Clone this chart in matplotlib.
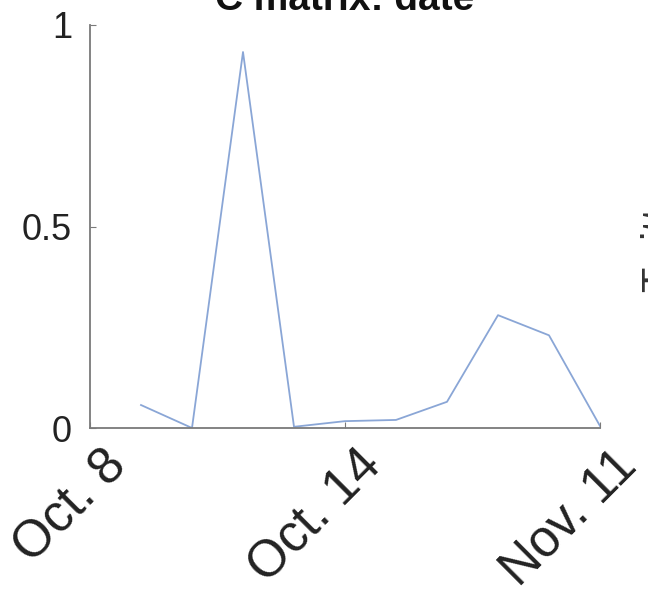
import matplotlib
matplotlib.use("Agg")
import matplotlib.pyplot as plt
from matplotlib.transforms import ScaledTranslation

plt.rcParams['font.family'] = ['Liberation Sans', 'DejaVu Sans']

# values of the C matrix per date index
idx = [1, 2, 3, 4, 5, 6, 7, 8, 9, 10]
vals = [0.057, 0.0, 0.933, 0.003, 0.017, 0.02, 0.065, 0.28, 0.23, 0.005]
tick_pos = [0, 5, 10]
tick_lab = ['Oct. 8', 'Oct. 14', 'Nov. 11']
ytick_pos = [0, 0.5, 1]
ytick_lab = ['0', '0.5', '1']

W, H = 648, 593
fig = plt.figure(figsize=(W/100, H/100), dpi=100)
ax = fig.add_axes([90/W, 1 - 428/H, 510/W, 403/H])

ax.plot(idx, vals, color='#8aa6d6', lw=1.3)

ax.set_xlim(0, 10)
ax.set_ylim(0, 1)
for s in ['top', 'right']:
    ax.spines[s].set_visible(False)
for s in ['left', 'bottom']:
    ax.spines[s].set_color('#7a7a7a')
    ax.spines[s].set_linewidth(1.3)

ax.set_yticks(ytick_pos)
ax.set_yticklabels(ytick_lab)
ax.set_xticks(tick_pos)
ax.set_xticklabels(tick_lab, rotation=45, ha='right', va='center',
                   rotation_mode='anchor')
ax.tick_params(direction='in', length=4, color='#7a7a7a',
               labelcolor='#222222')
ax.tick_params(axis='y', pad=13, labelsize=26)
ax.tick_params(axis='x', pad=20, labelsize=37)

# the rotated labels sit a little to the right of their tick
off = ScaledTranslation(29/100, -2/100, fig.dpi_scale_trans)
for lab in ax.get_xticklabels():
    lab.set_transform(lab.get_transform() + off)

# title, cut off at the top in the original
fig.text(345/W, 1 - 10/H, 'C matrix: date', ha='center', va='baseline',
         fontsize=28, fontweight='bold', color='#111111')

# neighbouring subplot's label, mostly outside the picture
fig.text(640/W, 1 - 292/H, 'Twitter', rotation=90, ha='left', va='bottom',
         fontsize=30, color='#333333')

fig.savefig('out.png', dpi=100)
